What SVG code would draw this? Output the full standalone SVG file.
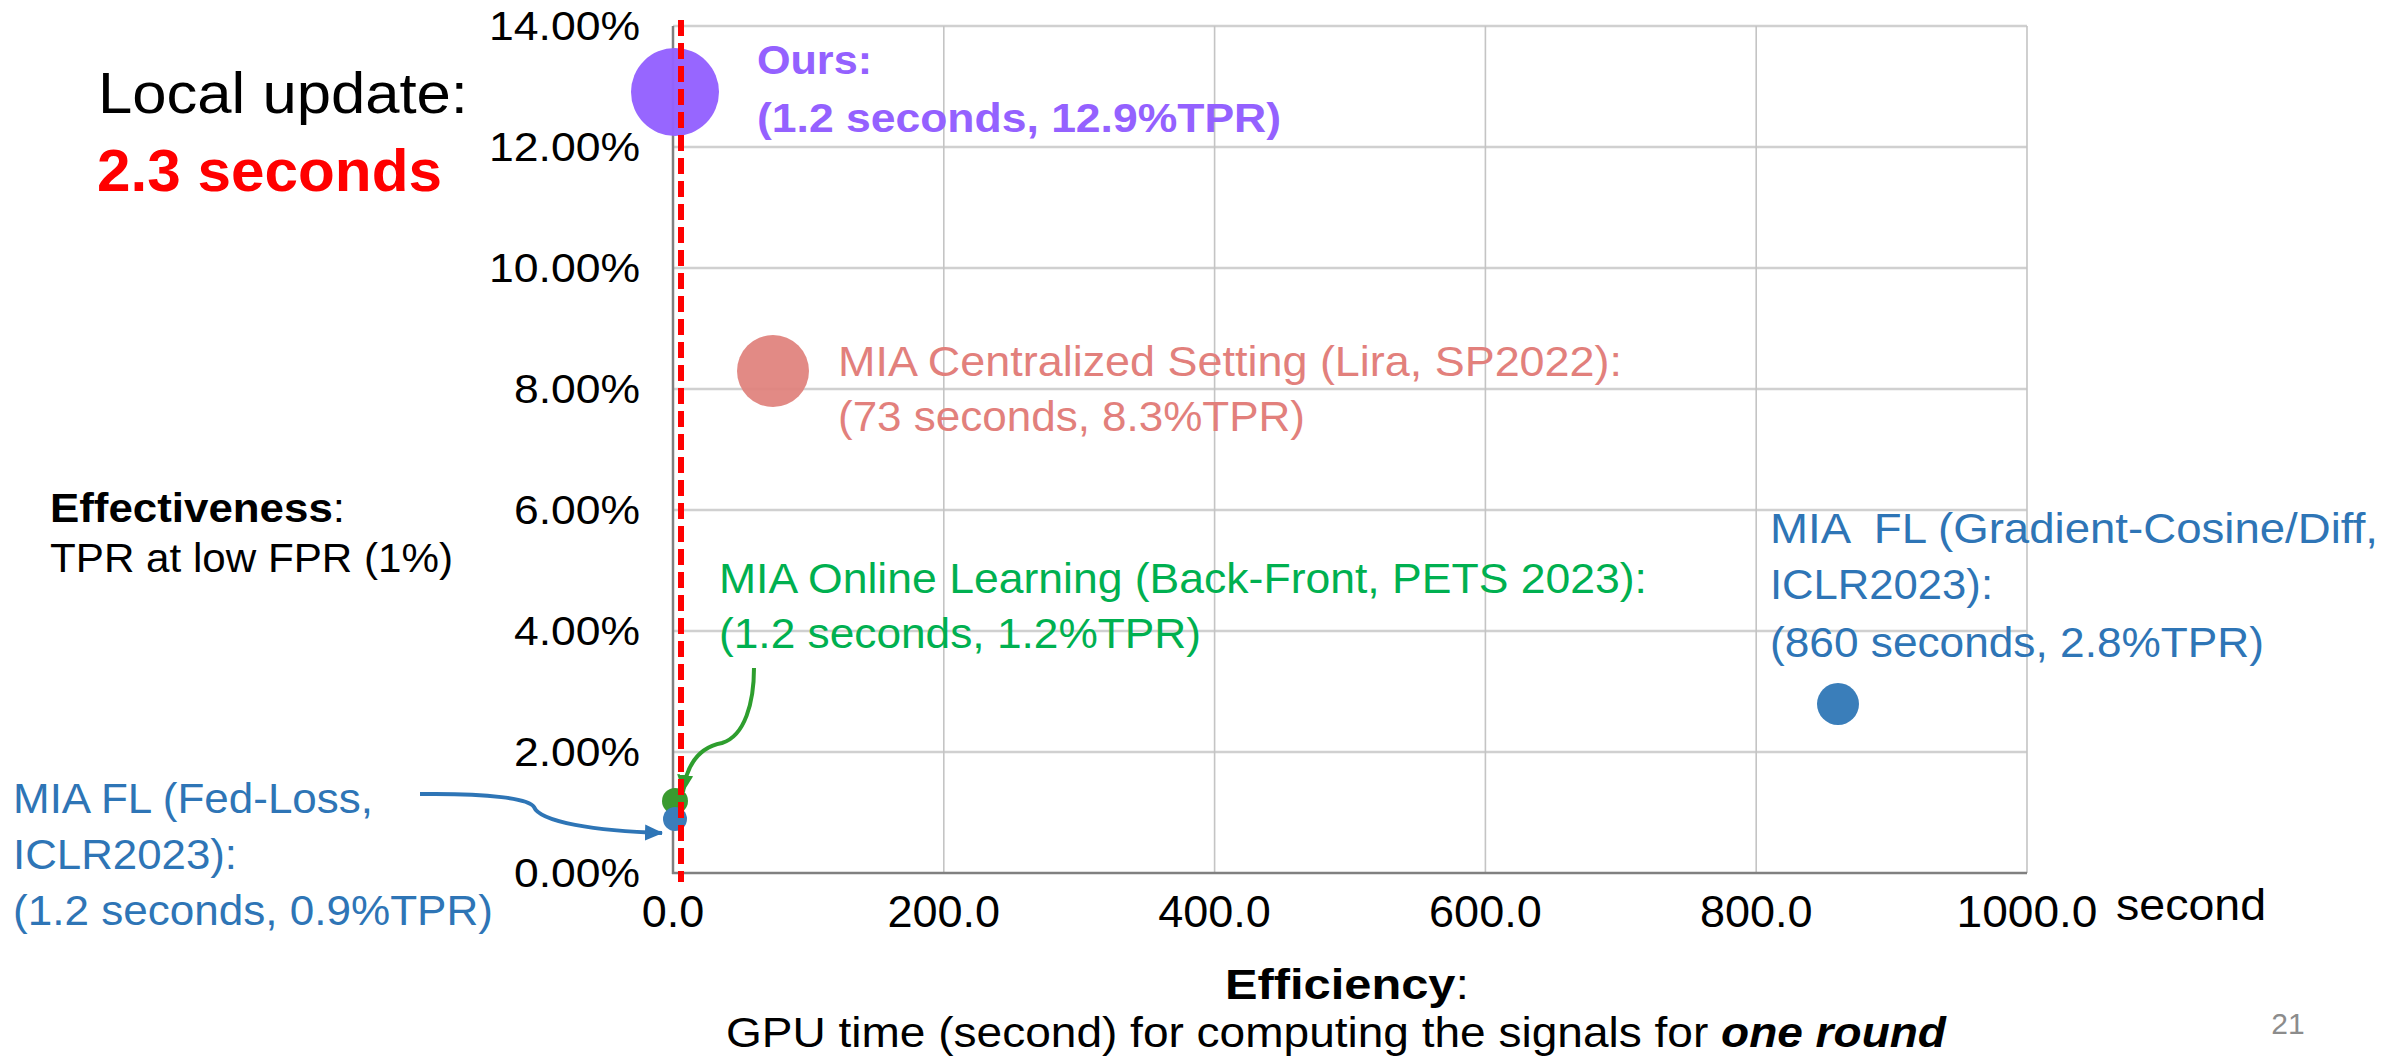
<svg xmlns="http://www.w3.org/2000/svg" width="2407" height="1061" viewBox="0 0 2407 1061">
<style>
text{font-family:"Liberation Sans",Arial,sans-serif;}
.ytick{font-size:40px;fill:#000;text-anchor:end;}
.xtick{font-size:45px;fill:#000;text-anchor:middle;}
.gh{stroke:#D0D0D0;stroke-width:2.5;}
.gv{stroke:#C4C4C4;stroke-width:1.6;}
.ax{stroke:#808080;stroke-width:2.5;}
.lbl{font-size:42px;}
.blue{fill:#2E75B6;}
.green{fill:#00B050;}
.pink{fill:#E2807C;}
.purple{fill:#9461FF;font-weight:bold;font-size:40px;}
</style>
<defs>
<marker id="ahBlue" markerUnits="userSpaceOnUse" markerWidth="18" markerHeight="18" viewBox="0 0 18 18" refX="17" refY="9" orient="auto">
<path d="M0,1 L18,9 L0,17 Z" fill="#2E75B6"/>
</marker>
<marker id="ahGreen" markerUnits="userSpaceOnUse" markerWidth="18" markerHeight="18" viewBox="0 0 18 18" refX="17" refY="9" orient="auto">
<path d="M0,1 L18,9 L0,17 Z" fill="#2E9E2E"/>
</marker>
</defs>
<rect width="2407" height="1061" fill="#fff"/>

<g id="grid">
<line class="gh" x1="673" y1="26" x2="2027" y2="26"/>
<line class="gh" x1="673" y1="147" x2="2027" y2="147"/>
<line class="gh" x1="673" y1="268" x2="2027" y2="268"/>
<line class="gh" x1="673" y1="389" x2="2027" y2="389"/>
<line class="gh" x1="673" y1="510" x2="2027" y2="510"/>
<line class="gh" x1="673" y1="631" x2="2027" y2="631"/>
<line class="gh" x1="673" y1="752" x2="2027" y2="752"/>
<line class="gv" x1="943.8" y1="26" x2="943.8" y2="873"/>
<line class="gv" x1="1214.6" y1="26" x2="1214.6" y2="873"/>
<line class="gv" x1="1485.4" y1="26" x2="1485.4" y2="873"/>
<line class="gv" x1="1756.2" y1="26" x2="1756.2" y2="873"/>
<line class="gv" x1="2027" y1="26" x2="2027" y2="873"/>
<line class="ax" x1="673" y1="26" x2="673" y2="874"/>
<line class="ax" x1="672" y1="873" x2="2027" y2="873"/>
</g>

<g id="y-axis">
<text class="ytick" x="640" y="40" textLength="151" lengthAdjust="spacingAndGlyphs">14.00%</text>
<text class="ytick" x="640" y="161" textLength="151" lengthAdjust="spacingAndGlyphs">12.00%</text>
<text class="ytick" x="640" y="282" textLength="151" lengthAdjust="spacingAndGlyphs">10.00%</text>
<text class="ytick" x="640" y="403" textLength="126" lengthAdjust="spacingAndGlyphs">8.00%</text>
<text class="ytick" x="640" y="524" textLength="126" lengthAdjust="spacingAndGlyphs">6.00%</text>
<text class="ytick" x="640" y="645" textLength="126" lengthAdjust="spacingAndGlyphs">4.00%</text>
<text class="ytick" x="640" y="766" textLength="126" lengthAdjust="spacingAndGlyphs">2.00%</text>
<text class="ytick" x="640" y="887" textLength="126" lengthAdjust="spacingAndGlyphs">0.00%</text>
</g>

<g id="x-axis">
<text class="xtick" x="673" y="927">0.0</text>
<text class="xtick" x="943.8" y="927">200.0</text>
<text class="xtick" x="1214.6" y="927">400.0</text>
<text class="xtick" x="1485.4" y="927">600.0</text>
<text class="xtick" x="1756.2" y="927">800.0</text>
<text class="xtick" x="2027" y="927" textLength="141" lengthAdjust="spacingAndGlyphs">1000.0</text>
<text x="2116" y="920" font-size="45" textLength="150" lengthAdjust="spacingAndGlyphs">second</text>
</g>

<g id="y-title">
<text x="50" y="522" font-size="40" textLength="295" lengthAdjust="spacingAndGlyphs"><tspan font-weight="bold">Effectiveness</tspan>:</text>
<text x="50" y="572" font-size="40" textLength="403" lengthAdjust="spacingAndGlyphs">TPR at low FPR (1%)</text>
</g>

<g id="x-title">
<text x="1347" y="999" font-size="43" text-anchor="middle" textLength="244" lengthAdjust="spacingAndGlyphs"><tspan font-weight="bold">Efficiency</tspan>:</text>
<text x="726" y="1047" font-size="43" textLength="1220" lengthAdjust="spacingAndGlyphs">GPU time (second) for computing the signals for <tspan font-weight="bold" font-style="italic">one round</tspan></text>
</g>

<g id="local-update">
<text x="98" y="113" font-size="58" textLength="370" lengthAdjust="spacingAndGlyphs">Local update:</text>
<text x="97" y="191" font-size="60" font-weight="bold" fill="#FF0000" textLength="345" lengthAdjust="spacingAndGlyphs">2.3 seconds</text>
</g>

<g id="point-lira">
<circle cx="773" cy="371" r="36" fill="#E0807B" fill-opacity="0.92"/>
<text class="lbl pink" x="838" y="376" textLength="784" lengthAdjust="spacingAndGlyphs">MIA Centralized Setting (Lira, SP2022):</text>
<text class="lbl pink" x="838" y="431" textLength="467" lengthAdjust="spacingAndGlyphs">(73 seconds, 8.3%TPR)</text>
</g>

<g id="point-gradient">
<circle cx="1838" cy="704" r="21" fill="#3A7EBA"/>
<text class="lbl blue" x="1770" y="543" style="white-space:pre" textLength="608" lengthAdjust="spacingAndGlyphs">MIA  FL (Gradient-Cosine/Diff,</text>
<text class="lbl blue" x="1770" y="599" textLength="223" lengthAdjust="spacingAndGlyphs">ICLR2023):</text>
<text class="lbl blue" x="1770" y="657" textLength="494" lengthAdjust="spacingAndGlyphs">(860 seconds, 2.8%TPR)</text>
</g>

<g id="point-online">
<circle cx="675" cy="801" r="13" fill="#3A9A2F"/>
<text class="lbl green" x="719" y="593" textLength="928" lengthAdjust="spacingAndGlyphs">MIA Online Learning (Back-Front, PETS 2023):</text>
<text class="lbl green" x="719" y="648" textLength="482" lengthAdjust="spacingAndGlyphs">(1.2 seconds, 1.2%TPR)</text>
</g>

<g id="point-fedloss">
<circle cx="675" cy="819" r="12" fill="#3B7DBA"/>
<text class="lbl blue" x="13" y="813" textLength="360" lengthAdjust="spacingAndGlyphs">MIA FL (Fed-Loss,</text>
<text class="lbl blue" x="13" y="869" textLength="224" lengthAdjust="spacingAndGlyphs">ICLR2023):</text>
<text class="lbl blue" x="13" y="925" textLength="480" lengthAdjust="spacingAndGlyphs">(1.2 seconds, 0.9%TPR)</text>
</g>

<g id="point-ours">
<circle cx="675" cy="92" r="44" fill="#9461FF" fill-opacity="0.97"/>
<text class="purple" x="757" y="74" textLength="115" lengthAdjust="spacingAndGlyphs">Ours:</text>
<text class="purple" x="757" y="132" textLength="524" lengthAdjust="spacingAndGlyphs">(1.2 seconds, 12.9%TPR)</text>
</g>

<g id="connectors" fill="none">
<path d="M420,794 C490,793 529,799 534,807 C540,822 595,831 662,833" stroke="#2E75B6" stroke-width="4" marker-end="url(#ahBlue)"/>
<path d="M754,668 C754,702 745,736 722,743 C701,747 687,761 683,792" stroke="#2E9E2E" stroke-width="4" marker-end="url(#ahGreen)"/>
</g>

<g id="local-update-line">
<line x1="681" y1="20" x2="681" y2="882" stroke="#FF0000" stroke-width="6" stroke-dasharray="16 7"/>
</g>

<text x="2288" y="1034" font-size="30" fill="#8C8C8C" text-anchor="middle">21</text>
</svg>
